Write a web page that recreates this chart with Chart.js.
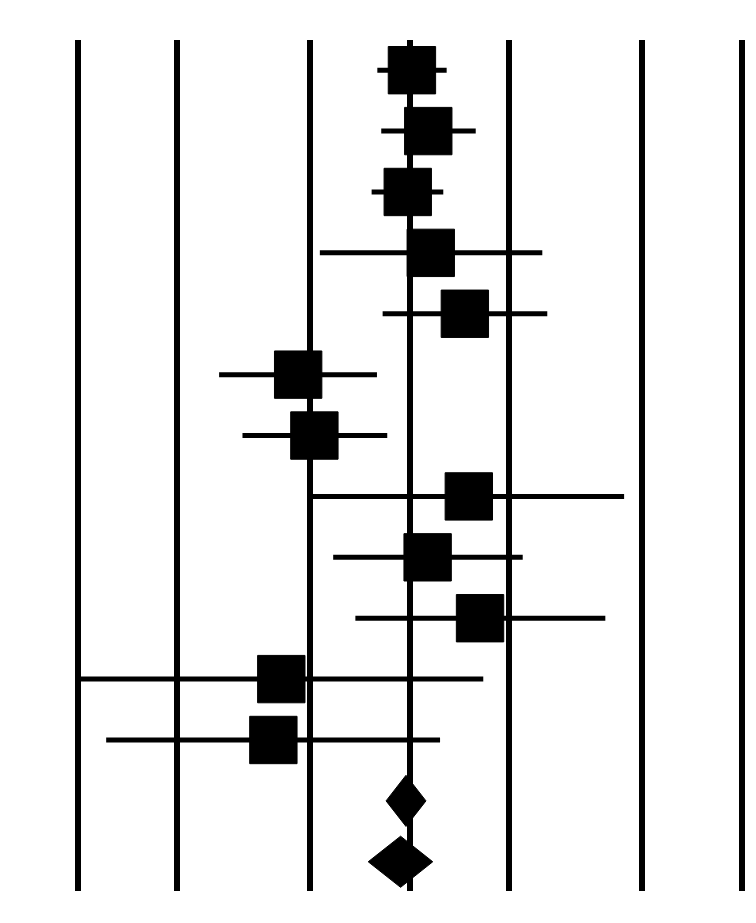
<!DOCTYPE html>
<html>
<head>
<meta charset="utf-8">
<script src="https://cdn.jsdelivr.net/npm/chart.js@4.4.1/dist/chart.umd.min.js"></script>
<style>
  html, body { margin: 0; padding: 0; background: #ffffff; }
  #wrap { width: 756px; height: 923px; }
</style>
</head>
<body>
<div id="wrap"><canvas id="c" width="756" height="923"></canvas></div>
<script>
// Study estimates (ratio scale) and confidence limits, rows top to bottom
const studyEstimates = [1.017, 1.139, 0.988, 1.159, 1.468, 0.462, 0.517, 1.509, 1.134, 1.631, 0.411, 0.389];
const studyLower     = [0.800, 0.822, 0.769, 0.537, 0.830, 0.267, 0.314, 0.500, 0.589, 0.687, 0.100, 0.122];
const studyUpper     = [1.294, 1.583, 1.264, 2.512, 2.600, 0.798, 0.857, 4.430, 2.193, 3.889, 1.668, 1.236];
// Pooled estimates (diamonds)
const pooledEstimates = [0.976, 0.940];
const pooledLower     = [0.850, 0.751];
const pooledUpper     = [1.121, 1.175];
// Reference tick values on the log axis
const tickValues = [0.1, 0.2, 0.5, 1, 2, 5, 10];

const nStudies = studyEstimates.length;
const datasets = [];

// whiskers
studyEstimates.forEach((e, i) => {
  datasets.push({
    type: 'scatter',
    data: [{x: studyLower[i], y: i}, {x: studyUpper[i], y: i}],
    showLine: true,
    borderColor: '#000',
    borderWidth: 5,
    borderCapStyle: 'butt',
    pointRadius: 0,
    pointHoverRadius: 0,
    order: 2
  });
});

// squares
datasets.push({
  type: 'scatter',
  data: studyEstimates.map((e, i) => ({x: e, y: i})),
  pointStyle: 'rect',
  pointRadius: 33.5,
  pointHoverRadius: 33.5,
  backgroundColor: '#000',
  borderColor: '#000',
  borderWidth: 1,
  order: 1
});

// diamonds
const halfH = 0.42;
pooledEstimates.forEach((e, k) => {
  const y = nStudies + k;
  datasets.push({
    type: 'scatter',
    data: [
      {x: pooledLower[k], y: y},
      {x: e, y: y - halfH},
      {x: pooledUpper[k], y: y},
      {x: e, y: y + halfH},
      {x: pooledLower[k], y: y}
    ],
    showLine: true,
    tension: 0,
    fill: 'shape',
    backgroundColor: '#000',
    borderColor: '#000',
    borderWidth: 1,
    pointRadius: 0,
    pointHoverRadius: 0,
    order: 1
  });
});

new Chart(document.getElementById('c'), {
  type: 'scatter',
  data: { datasets },
  options: {
    responsive: false,
    animation: false,
    layout: { autoPadding: false, padding: { left: 77.5, right: 14.5, top: 40, bottom: 32 } },
    plugins: { legend: { display: false }, tooltip: { enabled: false } },
    scales: {
      x: {
        type: 'logarithmic',
        min: 0.1,
        max: 10,
        afterBuildTicks: (scale) => { scale.ticks = tickValues.map(v => ({ value: v })); },
        ticks: { display: false },
        grid: { display: true, color: '#000', lineWidth: 6, drawTicks: false },
        border: { display: false }
      },
      y: {
        type: 'linear',
        min: -0.496,
        max: 13.48,
        reverse: true,
        display: false
      }
    }
  }
});
</script>
</body>
</html>
